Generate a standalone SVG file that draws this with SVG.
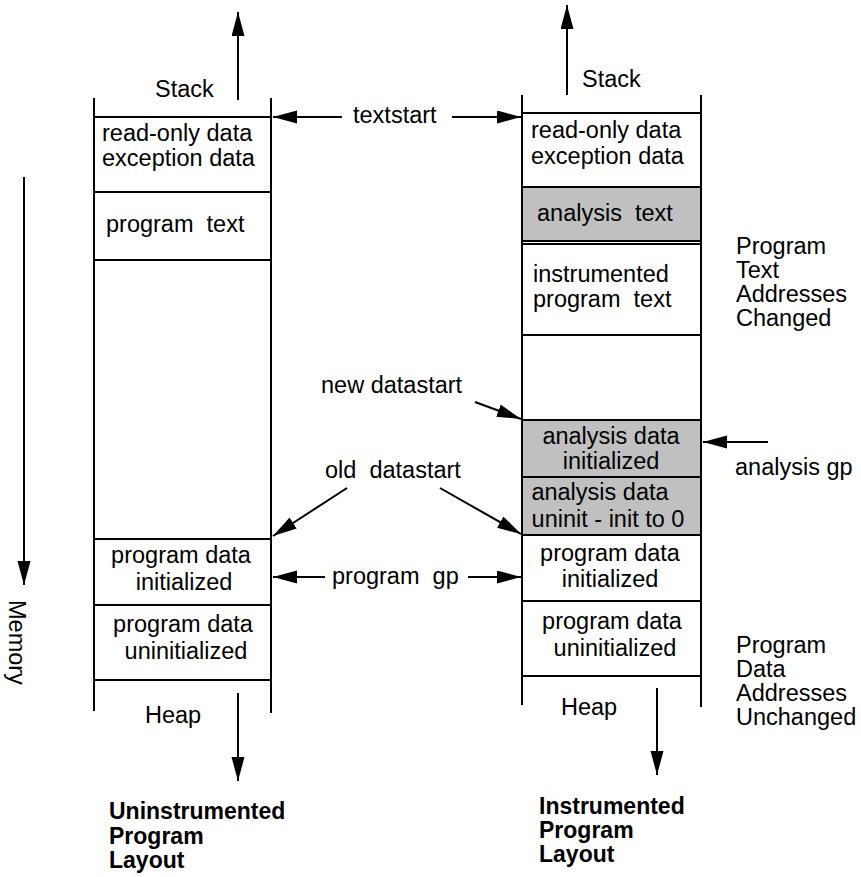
<svg xmlns="http://www.w3.org/2000/svg" width="861" height="877" viewBox="0 0 861 877">
<style>
text{font-family:"Liberation Sans",Arial,sans-serif;font-size:23.5px;fill:#000}
.b{font-weight:bold;font-size:23px}
.box{fill:#fff;stroke:#000;stroke-width:2}
.g{fill:#c0c0c0;stroke:#000;stroke-width:2}
.v{stroke:#000;stroke-width:2;fill:none}
.a{stroke:#000;stroke-width:2;fill:none;marker-end:url(#ah)}
.m{text-anchor:middle}
</style>
<defs>
<marker id="ah" markerUnits="userSpaceOnUse" markerWidth="26" markerHeight="14" refX="24" refY="6.5" orient="auto" viewBox="0 0 26 14">
<path d="M0,0 L24,6.5 L0,13 z" fill="#000"/>
</marker>
</defs>
<rect width="861" height="877" fill="#fff"/>

<g id="left-column">
<line class="v" x1="94" y1="98" x2="94" y2="711"/>
<line class="v" x1="271" y1="98" x2="271" y2="713"/>
<g id="l-readonly"><rect class="box" x="94" y="117" width="177" height="75"/>
<text x="102" y="141">read-only data</text><text x="102" y="166">exception data</text></g>
<g id="l-progtext"><rect class="box" x="94" y="192" width="177" height="68"/>
<text x="106" y="232" xml:space="preserve">program  text</text></g>
<g id="l-pdinit"><rect class="box" x="94" y="539" width="177" height="66"/>
<text class="m" x="181" y="563">program data</text><text class="m" x="184" y="590">initialized</text></g>
<g id="l-pduninit"><rect class="box" x="94" y="605" width="177" height="75"/>
<text class="m" x="183" y="632">program data</text><text class="m" x="186" y="659">uninitialized</text></g>
<g id="l-stack"><text x="155" y="97">Stack</text></g>
<g id="l-heap"><text x="145" y="723">Heap</text></g>
<g id="l-title"><text class="b" x="109" y="819">Uninstrumented</text><text class="b" x="109" y="844">Program</text><text class="b" x="109" y="868">Layout</text></g>
</g>

<g id="right-column">
<line class="v" x1="522" y1="95" x2="522" y2="705"/>
<line class="v" x1="701" y1="95" x2="701" y2="707"/>
<g id="r-readonly"><rect class="box" x="522" y="113" width="179" height="74"/>
<text x="531" y="138">read-only data</text><text x="531" y="164">exception data</text></g>
<g id="r-antext"><rect class="g" x="522" y="187" width="179" height="54"/>
<text x="537" y="221" xml:space="preserve">analysis  text</text></g>
<g id="r-instext"><rect class="box" x="522" y="244" width="179" height="91"/>
<text x="533" y="282">instrumented</text><text x="533" y="307" xml:space="preserve">program  text</text></g>
<g id="r-andinit"><rect class="g" x="522" y="420" width="179" height="57"/>
<text class="m" x="611" y="444">analysis data</text><text class="m" x="611" y="469">initialized</text></g>
<g id="r-anduninit"><rect class="g" x="522" y="477" width="179" height="58"/>
<text class="m" x="600" y="500">analysis data</text><text class="m" x="608" y="527">uninit - init to 0</text></g>
<g id="r-pdinit"><rect class="box" x="522" y="535" width="179" height="66"/>
<text class="m" x="610" y="561">program data</text><text class="m" x="610" y="587">initialized</text></g>
<g id="r-pduninit"><rect class="box" x="522" y="601" width="179" height="75"/>
<text class="m" x="612" y="629">program data</text><text class="m" x="615" y="656">uninitialized</text></g>
<g id="r-stack"><text x="582" y="87">Stack</text></g>
<g id="r-heap"><text x="561" y="715">Heap</text></g>
<g id="r-title"><text class="b" x="539" y="814">Instrumented</text><text class="b" x="539" y="838">Program</text><text class="b" x="539" y="862">Layout</text></g>
</g>

<g id="labels">
<text x="353" y="123">textstart</text>
<text x="321" y="393">new datastart</text>
<text x="325" y="478" xml:space="preserve">old  datastart</text>
<text x="332" y="584" xml:space="preserve">program  gp</text>
<text x="735" y="475">analysis gp</text>
<g id="note-text"><text x="736" y="254">Program</text><text x="736" y="278">Text</text><text x="736" y="302">Addresses</text><text x="736" y="326">Changed</text></g>
<g id="note-data"><text x="736" y="653">Program</text><text x="736" y="677">Data</text><text x="736" y="701">Addresses</text><text x="736" y="725">Unchanged</text></g>
<text transform="translate(9,600) rotate(90)">Memory</text>
</g>

<g id="connectors">
<line class="a" x1="238" y1="100" x2="238" y2="12"/>
<line class="a" x1="567" y1="95" x2="567" y2="5"/>
<line class="a" x1="238" y1="693" x2="238" y2="781"/>
<line class="a" x1="657" y1="688" x2="657" y2="775"/>
<line class="a" x1="342" y1="117" x2="273" y2="117"/>
<line class="a" x1="452" y1="117" x2="521" y2="117"/>
<line class="a" x1="475" y1="402" x2="521" y2="419"/>
<line class="a" x1="347" y1="488" x2="273" y2="536"/>
<line class="a" x1="440" y1="488" x2="521" y2="534"/>
<line class="a" x1="325" y1="577" x2="273" y2="577"/>
<line class="a" x1="468" y1="577" x2="521" y2="577"/>
<line class="a" x1="768" y1="442" x2="703" y2="442"/>
<line class="a" x1="24" y1="177" x2="24" y2="585"/>
</g>
</svg>
